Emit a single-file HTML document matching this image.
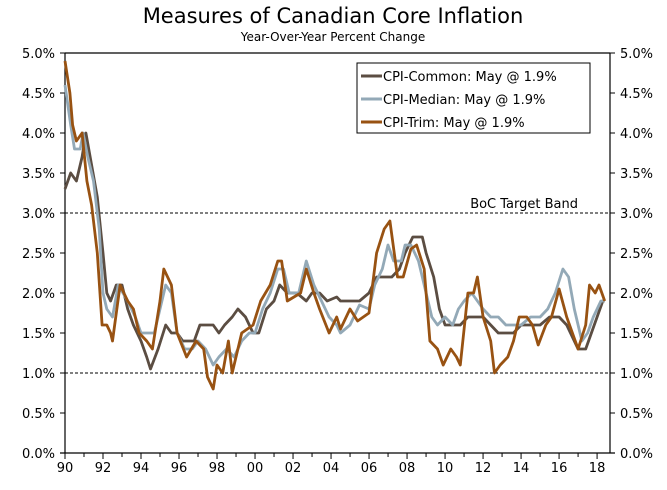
<!DOCTYPE html>
<html><head><meta charset="utf-8"><style>
body{margin:0;background:#fff;}
svg{display:block;font-family:"DejaVu Sans","Liberation Sans",sans-serif;}
</style></head><body>
<svg id="chart" width="667" height="490">
<text x="333" y="23" text-anchor="middle" font-size="21" fill="#000">Measures of Canadian Core Inflation</text>
<text x="333" y="41" text-anchor="middle" font-size="12" fill="#000">Year-Over-Year Percent Change</text>
<g id="grid"></g><g id="axes"></g><g id="series"></g>
<g>
<rect x="357" y="63" width="233" height="70" fill="#fff" stroke="#000" stroke-width="1"/>
<line x1="361" y1="76" x2="382" y2="76" stroke="#5b4d42" stroke-width="3"/>
<text x="383" y="81" font-size="13">CPI-Common: May @ 1.9%</text>
<line x1="361" y1="99" x2="382" y2="99" stroke="#93a9b7" stroke-width="3"/>
<text x="383" y="104" font-size="13">CPI-Median: May @ 1.9%</text>
<line x1="361" y1="122" x2="382" y2="122" stroke="#985212" stroke-width="3"/>
<text x="383" y="127" font-size="13">CPI-Trim: May @ 1.9%</text>
</g>
<text x="578" y="208" text-anchor="end" font-size="13">BoC Target Band</text>
</svg>
<script>
const yTicks=[0,0.5,1,1.5,2,2.5,3,3.5,4,4.5,5];
const xTickYears=[1990,1992,1994,1996,1998,2000,2002,2004,2006,2008,2010,2012,2014,2016,2018];
const xTickLabels=["90","92","94","96","98","00","02","04","06","08","10","12","14","16","18"];
const bandLevels=[1,3];
const commonYears=[1990.0,1990.3,1990.6,1990.9,1991.1,1991.4,1991.7,1992.0,1992.2,1992.4,1992.7,1993.0,1993.3,1993.6,1994.0,1994.3,1994.5,1994.9,1995.3,1995.6,1995.9,1996.2,1996.8,1997.1,1997.8,1998.1,1998.4,1998.8,1999.1,1999.5,1999.9,2000.2,2000.6,2001.0,2001.3,2001.7,2002.2,2002.7,2003.0,2003.4,2003.8,2004.3,2004.5,2005.0,2005.5,2006.0,2006.4,2006.8,2007.2,2007.6,2007.9,2008.3,2008.8,2009.0,2009.4,2009.7,2010.0,2010.4,2010.8,2011.2,2011.6,2012.0,2012.4,2012.8,2013.2,2013.6,2014.0,2014.6,2015.0,2015.5,2016.0,2016.4,2016.8,2017.0,2017.4,2017.7,2018.0,2018.3,2018.4];
const commonValues=[3.3,3.5,3.4,3.7,4.0,3.6,3.2,2.5,2.0,1.9,2.1,2.1,1.8,1.6,1.4,1.2,1.05,1.3,1.6,1.5,1.5,1.4,1.4,1.6,1.6,1.5,1.6,1.7,1.8,1.7,1.5,1.5,1.8,1.9,2.1,2.0,2.0,1.9,2.0,2.0,1.9,1.95,1.9,1.9,1.9,2.0,2.2,2.2,2.2,2.3,2.5,2.7,2.7,2.5,2.2,1.8,1.6,1.6,1.6,1.7,1.7,1.7,1.6,1.5,1.5,1.5,1.6,1.6,1.6,1.7,1.7,1.6,1.4,1.3,1.3,1.5,1.7,1.9,1.9];
const medianYears=[1990.0,1990.3,1990.5,1990.8,1990.95,1991.2,1991.5,1991.8,1992.0,1992.2,1992.5,1992.8,1993.3,1993.7,1994.0,1994.4,1994.7,1995.0,1995.3,1995.6,1995.9,1996.3,1996.7,1997.0,1997.4,1997.8,1998.1,1998.5,1998.9,1999.3,1999.7,2000.0,2000.4,2000.8,2001.2,2001.5,2001.8,2002.3,2002.7,2003.1,2003.5,2003.9,2004.3,2004.5,2005.0,2005.5,2006.0,2006.3,2006.7,2007.0,2007.3,2007.7,2007.9,2008.2,2008.6,2009.0,2009.3,2009.6,2010.0,2010.4,2010.7,2011.0,2011.4,2011.7,2012.0,2012.4,2012.8,2013.2,2013.6,2014.0,2014.5,2015.0,2015.4,2015.8,2016.2,2016.5,2016.8,2017.2,2017.5,2017.8,2018.2,2018.4];
const medianValues=[4.6,4.1,3.8,3.8,4.0,3.7,3.4,2.8,2.0,1.8,1.7,2.1,1.9,1.7,1.5,1.5,1.5,1.8,2.1,2.0,1.5,1.3,1.3,1.4,1.3,1.1,1.2,1.3,1.2,1.4,1.5,1.5,1.8,2.0,2.3,2.3,2.0,2.0,2.4,2.1,1.9,1.7,1.6,1.5,1.6,1.85,1.8,2.1,2.3,2.6,2.4,2.4,2.6,2.6,2.4,2.0,1.7,1.6,1.7,1.6,1.8,1.9,2.0,1.9,1.8,1.7,1.7,1.6,1.6,1.6,1.7,1.7,1.8,2.0,2.3,2.2,1.8,1.4,1.5,1.7,1.9,1.9];
const trimYears=[1990.0,1990.26,1990.4,1990.6,1990.9,1991.15,1991.4,1991.7,1991.95,1992.2,1992.4,1992.5,1992.9,1993.3,1993.6,1993.9,1994.3,1994.6,1995.0,1995.2,1995.6,1995.9,1996.4,1996.9,1997.3,1997.5,1997.8,1998.0,1998.3,1998.6,1998.8,1999.3,1999.9,2000.3,2000.8,2001.2,2001.4,2001.7,2002.4,2002.7,2003.1,2003.4,2003.9,2004.3,2004.5,2005.0,2005.4,2006.0,2006.4,2006.8,2007.1,2007.5,2007.8,2008.2,2008.5,2008.9,2009.2,2009.6,2009.9,2010.3,2010.6,2010.8,2011.2,2011.5,2011.7,2012.0,2012.4,2012.6,2012.9,2013.3,2013.6,2013.9,2014.3,2014.6,2014.9,2015.3,2015.6,2016.0,2016.4,2016.7,2017.0,2017.4,2017.6,2017.9,2018.1,2018.4];
const trimValues=[4.9,4.5,4.1,3.9,4.0,3.4,3.1,2.5,1.6,1.6,1.5,1.4,2.1,1.9,1.8,1.5,1.4,1.3,1.9,2.3,2.1,1.5,1.2,1.4,1.3,0.95,0.8,1.1,1.0,1.4,1.0,1.5,1.6,1.9,2.1,2.4,2.4,1.9,2.0,2.3,2.0,1.8,1.5,1.7,1.55,1.8,1.65,1.75,2.5,2.8,2.9,2.2,2.2,2.55,2.6,2.3,1.4,1.3,1.1,1.3,1.2,1.1,2.0,2.0,2.2,1.7,1.4,1.0,1.1,1.2,1.4,1.7,1.7,1.6,1.35,1.6,1.7,2.05,1.7,1.5,1.3,1.6,2.1,2.0,2.1,1.9];

const NS="http://www.w3.org/2000/svg";
const L=65,R=610,T=53,B=453,Y0=1990,Y1=2018.68;
function xs(y){return L+(y-Y0)/(Y1-Y0)*(R-L);}
function ys(v){return B-v/5*(B-T);}
function mk(tag,attrs,parent){const e=document.createElementNS(NS,tag);for(const k in attrs)e.setAttribute(k,attrs[k]);parent.appendChild(e);return e;}
const grid=document.getElementById('grid'),axes=document.getElementById('axes'),ser=document.getElementById('series');
bandLevels.forEach(function(v){
  const ln=mk('line',{x1:L,x2:R,y1:ys(v),y2:ys(v),stroke:'#000','stroke-width':1,'stroke-dasharray':'3,2'},grid);
  
  
});
let a=mk('line',{x1:L,x2:L,y1:T,y2:B,stroke:'#000','stroke-width':1.2},axes);


a=mk('line',{x1:R,x2:R,y1:T,y2:B,stroke:'#000','stroke-width':1.2},axes);


a=mk('line',{x1:L,x2:R,y1:T,y2:T,stroke:'#000','stroke-width':1.2},axes);


a=mk('line',{x1:L-5,x2:R+5,y1:B,y2:B,stroke:'#000','stroke-width':1.2},axes);


yTicks.forEach(function(v){
  const y=ys(v);
  mk('line',{x1:L-5,x2:L,y1:y,y2:y,stroke:'#000'},axes);
  mk('line',{x1:R,x2:R+5,y1:y,y2:y,stroke:'#000'},axes);
  const t1=mk('text',{x:L-10,y:y+5,'text-anchor':'end','font-size':13},axes);
  t1.textContent=v.toFixed(1)+'%';
  
  
  const t2=mk('text',{x:R+10,y:y+5,'text-anchor':'start','font-size':13},axes);
  t2.textContent=v.toFixed(1)+'%';
  
  
});
for(let yr=1990;yr<=2018;yr++){
  const x=xs(yr);
  mk('line',{x1:x,x2:x,y1:B,y2:B+(yr%2===0?6:4),stroke:'#000'},axes);
}
xTickYears.forEach(function(yr,i){
  const t=mk('text',{x:xs(yr),y:B+19,'text-anchor':'middle','font-size':13},axes);
  t.textContent=xTickLabels[i];
  
  
});
function line(xsArr,vals,color,name){
  let d='';
  xsArr.forEach(function(yr,i){d+=(i?'L':'M')+xs(yr).toFixed(1)+','+ys(vals[i]).toFixed(1);});
  const p=mk('path',{d:d,fill:'none',stroke:color,'stroke-width':2.8,'stroke-linejoin':'round'},ser);
  
  
}
line(commonYears,commonValues,'#5b4d42','cpi-common-line');
line(medianYears,medianValues,'#93a9b7','cpi-median-line');
line(trimYears,trimValues,'#985212','cpi-trim-line');
</script>
</body></html>
